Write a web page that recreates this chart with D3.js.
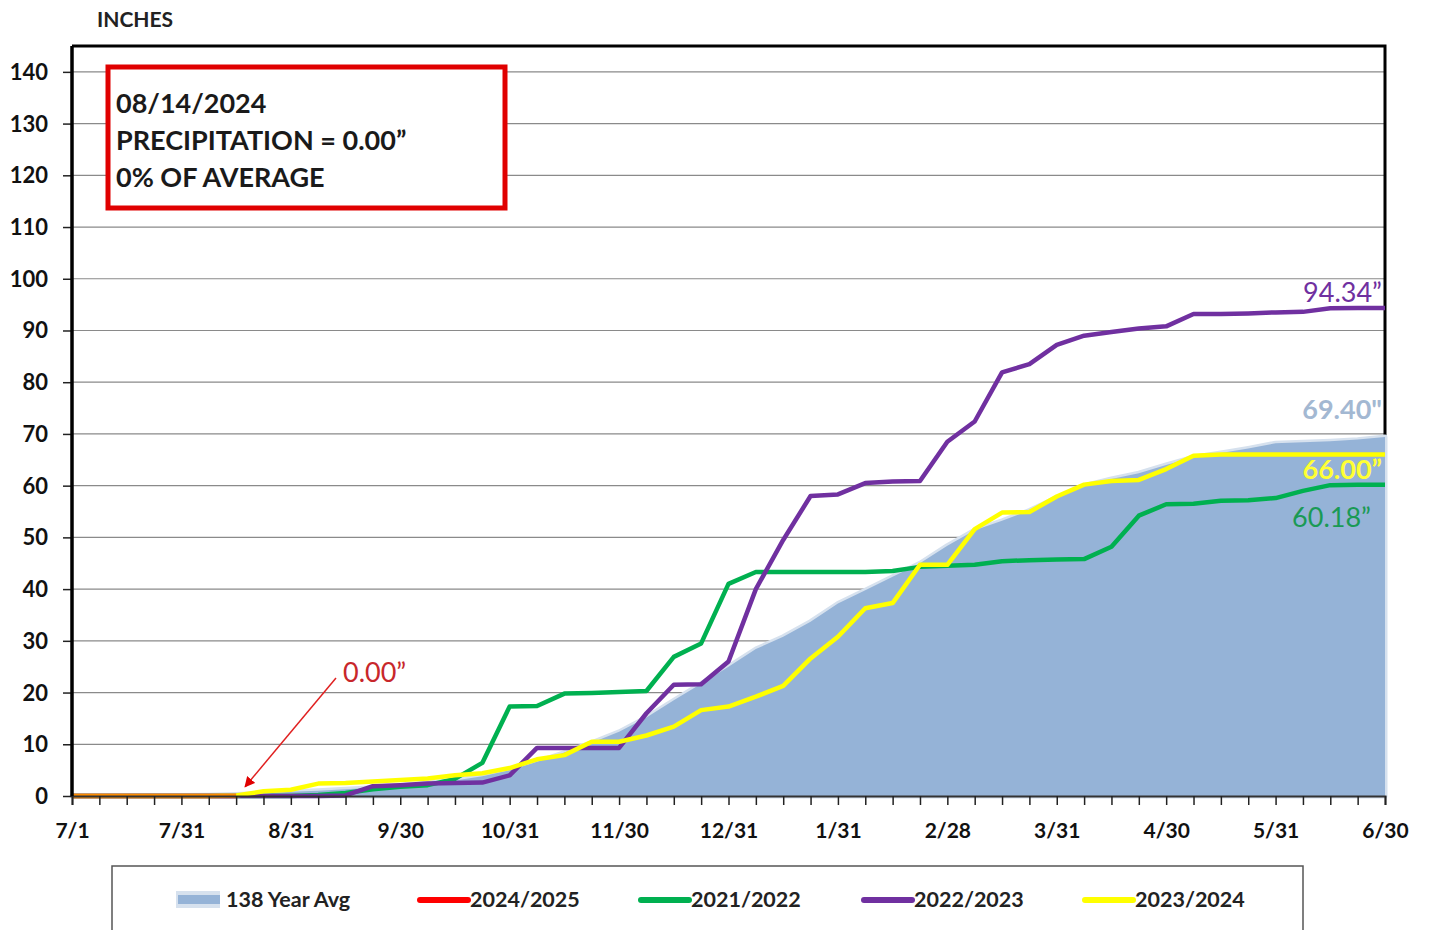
<!DOCTYPE html>
<html><head><meta charset="utf-8">
<script src="https://cdn.jsdelivr.net/npm/d3@7"></script>
<style>
html,body{margin:0;padding:0;background:#fff;}
svg{display:block;font-family:Lato,"Liberation Sans",sans-serif;}
</style></head>
<body>
<svg id="chart" width="1429" height="930"></svg>
<script>
// ---- data (one point per ~week of water year, 49 points, 7/1 .. 6/30) ----
const xLabels = ["7/1","7/31","8/31","9/30","10/31","11/30","12/31","1/31","2/28","3/31","4/30","5/31","6/30"];
const yTicks = [0,10,20,30,40,50,60,70,80,90,100,110,120,130,140];
const avg138 = [0,0.02,0.05,0.08,0.1,0.15,0.3,0.5,0.8,1.0,1.3,1.6,2.0,2.5,3.0,3.8,5.0,6.6,8.4,10.3,12.4,15.2,18.5,21.7,25.0,28.4,30.8,33.7,37.2,39.8,42.4,45.0,48.4,51.4,53.2,55.2,57.7,60.0,61.3,62.4,64.0,65.5,66.3,67.2,68.2,68.4,68.6,68.9,69.4];
const wy2024_25 = [0,0,0,0,0,0,0];
const wy2021_22 = [0,0,0,0,0,0,0,0,0,0.2,0.6,1.3,1.8,2.1,3.3,6.4,17.3,17.4,19.8,19.9,20.1,20.3,26.9,29.5,41.0,43.3,43.3,43.3,43.3,43.3,43.5,44.3,44.5,44.7,45.4,45.6,45.7,45.8,48.2,54.2,56.4,56.5,57.1,57.2,57.6,59.0,60.1,60.18,60.18];
const wy2022_23 = [0,0,0,0,0,0,0,0,0,0,0.1,1.9,2.1,2.4,2.5,2.6,4.0,9.3,9.3,9.3,9.3,16.0,21.5,21.6,26.0,40.0,49.5,58.0,58.3,60.5,60.8,60.9,68.5,72.4,81.9,83.5,87.2,89.0,89.7,90.4,90.8,93.2,93.2,93.3,93.5,93.6,94.3,94.34,94.34];
const wy2023_24 = [0,0,0,0,0,0,0.1,0.9,1.2,2.4,2.5,2.8,3.1,3.4,4.0,4.4,5.4,7.1,7.9,10.5,10.5,11.7,13.4,16.6,17.3,19.2,21.3,26.6,30.8,36.3,37.3,44.7,44.7,51.6,54.8,54.9,57.9,60.2,60.9,61.1,63.2,65.8,66.0,66.0,66.0,66.0,66.0,66.0,66.0];
const seriesNames = ["138 Year Avg","2024/2025","2021/2022","2022/2023","2023/2024"];
const endLabels = ["94.34\u201D","69.40\"","66.00\u201D","60.18\u201D"];
const infoLines = ["08/14/2024","PRECIPITATION = 0.00\u201D","0% OF AVERAGE"];
const todayLabel = "0.00\u201D";

const C = {avg:"#95b3d7", avgLight:"#d6e1ee", red:"#ff0000", green:"#00b050", purple:"#7030a0", yellow:"#ffff00"};

const svg = d3.select("#chart");
const L = 72, R = 1385, T = 46, B = 796;
const nPts = avg138.length;
const x = d3.scaleLinear().domain([0, nPts-1]).range([L, R]);
const y = d3.scaleLinear().domain([0, 145]).range([B, T]);

// gridlines
svg.append("g").selectAll("line").data(yTicks.filter(d=>d>0)).join("line")
  .attr("x1", L).attr("x2", R).attr("y1", d=>y(d)).attr("y2", d=>y(d))
  .attr("stroke", "#8a8a8a").attr("stroke-width", 1.2);

// frame (top & right)
svg.append("path").attr("d", `M${L},${T}H${R}V${B}`).attr("fill","none")
  .attr("stroke","#000").attr("stroke-width",3);

// average area (light halo + main)
const idx = d3.range(nPts);
const areaGen = d3.area().x(i=>x(i)).y0(y(0)).y1(i=>y(avg138[i]));
svg.append("path").datum(idx).attr("d", areaGen).attr("fill", C.avg)
  .attr("stroke", C.avgLight).attr("stroke-width", 5).attr("stroke-linejoin","round");
svg.append("path").datum(idx).attr("d", areaGen).attr("fill", C.avg);

const lineGen = arr => d3.line().x((d,i)=>x(i)).y(d=>y(d))(arr);
function drawLine(arr, color, w, op){
  svg.append("path").attr("d", lineGen(arr)).attr("fill","none")
    .attr("stroke", color).attr("stroke-width", w).attr("stroke-linejoin","round")
    .attr("stroke-opacity", op || 1);
}
drawLine(wy2021_22, C.green, 4.5);
drawLine(wy2022_23, C.purple, 4.5);
drawLine(wy2023_24, C.yellow, 4.5);
drawLine(wy2024_25, C.red, 5, 0.45);

// x axis
const xAxis = d3.axisBottom(x).tickValues(idx).tickSize(9).tickPadding(18)
  .tickFormat(i => i % 4 === 0 ? xLabels[i/4] : "");
const gx = svg.append("g").attr("transform", `translate(0,${B})`).call(xAxis);
gx.select(".domain").attr("stroke","#333").attr("stroke-width",2);
gx.selectAll(".tick line").attr("stroke","#222").attr("stroke-width",1.5);
gx.selectAll("text").attr("font-size",21).attr("font-weight","bold").attr("fill","#111")
  .attr("font-family","Lato, sans-serif");

// y axis
const yAxis = d3.axisLeft(y).tickValues(yTicks).tickSize(9).tickPadding(15);
const gy = svg.append("g").attr("transform", `translate(${L},0)`).call(yAxis);
gy.select(".domain").remove();
gy.append("line").attr("x1",0).attr("x2",0).attr("y1",T).attr("y2",B).attr("stroke","#000").attr("stroke-width",3.5);
gy.selectAll(".tick line").attr("stroke","#222").attr("stroke-width",1.5);
gy.selectAll("text").attr("font-size",22).attr("font-weight","bold").attr("fill","#111")
  .attr("font-family","Lato, sans-serif").attr("dy","0.34em");

// INCHES
svg.append("text").attr("x",97).attr("y",27).text("INCHES")
  .attr("font-size",21).attr("font-weight","bold").attr("fill","#222");

// info box
svg.append("rect").attr("x",108).attr("y",67).attr("width",397).attr("height",141)
  .attr("fill","#fff").attr("stroke","#e00000").attr("stroke-width",5);
svg.append("g").selectAll("text").data(infoLines).join("text")
  .attr("x",116).attr("y",(d,i)=>113+i*37).text(d=>d)
  .attr("font-size",27).attr("font-weight","bold").attr("fill","#1a1a1a");

// today annotation with arrow
svg.append("defs").append("marker").attr("id","arr").attr("viewBox","0 0 10 10")
  .attr("refX",9).attr("refY",5).attr("markerWidth",7).attr("markerHeight",7).attr("orient","auto")
  .append("path").attr("d","M0,0L10,5L0,10z").attr("fill","#e00000");
svg.append("line").attr("x1",336).attr("y1",678).attr("x2",x(6)+9).attr("y2",y(1.8))
  .attr("stroke","#e02020").attr("stroke-width",1.5).attr("marker-end","url(#arr)");
svg.append("text").attr("x",343).attr("y",682).text(todayLabel)
  .attr("font-size",27).attr("fill","#c8272b");

// end labels
const endInfo = [
  {t:endLabels[0], v:wy2022_23[nPts-1], dy:-6, c:"#7030a0", w:"normal"},
  {t:endLabels[1], v:avg138[nPts-1], dy:-18, c:"#a3b8d2", w:"bold"},
  {t:endLabels[2], v:wy2023_24[nPts-1], dy:24, c:"#ffff33", w:"bold"},
  {t:endLabels[3], v:wy2021_22[nPts-1], dy:42, c:"#1a9a55", w:"normal"}
];
svg.append("g").selectAll("text").data(endInfo).join("text")
  .attr("x",d=>d.t===endLabels[3]?R-14:R-3).attr("y",d=>y(d.v)+d.dy).attr("text-anchor","end").text(d=>d.t)
  .attr("font-size",27).attr("font-weight",d=>d.w).attr("fill",d=>d.c);

// legend
svg.append("rect").attr("x",112).attr("y",866).attr("width",1191).attr("height",80)
  .attr("fill","#fff").attr("stroke","#555").attr("stroke-width",1.5);
const legItems = [
  {n:seriesNames[0], x:176, type:"area", c:C.avg},
  {n:seriesNames[1], x:420, type:"line", c:C.red},
  {n:seriesNames[2], x:641, type:"line", c:C.green},
  {n:seriesNames[3], x:864, type:"line", c:C.purple},
  {n:seriesNames[4], x:1085, type:"line", c:C.yellow}
];
const lg = svg.append("g").selectAll("g").data(legItems).join("g");
lg.filter(d=>d.type==="area").append("rect").attr("x",d=>d.x).attr("y",891).attr("width",44).attr("height",17)
  .attr("fill",C.avgLight);
lg.filter(d=>d.type==="area").append("rect").attr("x",d=>d.x+2).attr("y",895).attr("width",42).attr("height",9)
  .attr("fill",C.avg);
lg.filter(d=>d.type==="line").append("line").attr("x1",d=>d.x).attr("x2",d=>d.x+48)
  .attr("y1",900).attr("y2",900).attr("stroke",d=>d.c).attr("stroke-width",6).attr("stroke-linecap","round");
lg.append("text").attr("x",d=>d.x+50).attr("y",907).text(d=>d.n)
  .attr("font-size",21.5).attr("font-weight","bold").attr("fill","#222");
</script>
</body></html>
